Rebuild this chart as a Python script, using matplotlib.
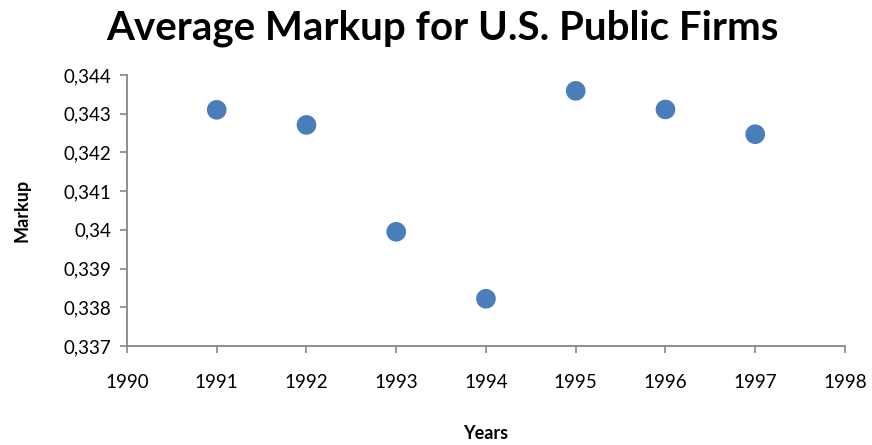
import numpy as np
import matplotlib
matplotlib.use("Agg")
import matplotlib.pyplot as plt
from matplotlib.ticker import FuncFormatter, MultipleLocator

#%% Data
years = [1991, 1992, 1993, 1994, 1995, 1996, 1997]
markup = [0.34310, 0.34271, 0.33995, 0.33822, 0.34359, 0.34311, 0.34247]

x_ticks = [1990, 1991, 1992, 1993, 1994, 1995, 1996, 1997, 1998]
y_min, y_max = 0.337, 0.344

#%% Plot
plt.rcParams['font.family'] = ['Lato', 'DejaVu Sans']
axis_grey = '#868686'

fig = plt.figure(figsize=(8.72, 4.45), dpi=100)
ax = fig.add_axes([0.1456, 0.2225, 0.8234, 0.609])

ax.scatter(years, markup, s=200, color='#4a7ebb', edgecolors='none', zorder=3)

ax.set_xlim(x_ticks[0], x_ticks[-1])
ax.set_ylim(y_min, y_max)
ax.set_xticks(x_ticks)
ax.yaxis.set_major_locator(MultipleLocator(0.001))


def comma_fmt(v, pos):
    s = f'{v:.3f}'.rstrip('0')
    return s.replace('.', ',')


ax.yaxis.set_major_formatter(FuncFormatter(comma_fmt))

for side in ['top', 'right']:
    ax.spines[side].set_visible(False)
for side in ['left', 'bottom']:
    ax.spines[side].set_color(axis_grey)
    ax.spines[side].set_linewidth(1.3)

ax.tick_params(axis='both', colors=axis_grey, length=5, width=1.2, labelsize=13.5,
               labelcolor='black')
ax.tick_params(axis='x', pad=15)
ax.tick_params(axis='y', pad=6)

ax.set_xlabel('Years', fontsize=13, fontweight='bold', labelpad=25)
ax.set_ylabel('Markup', fontsize=13, fontweight='bold', labelpad=24)
fig.suptitle('Average Markup for U.S. Public Firms', fontsize=29, fontweight='bold',
             x=0.507, y=0.978)

fig.savefig('out.png', dpi=100)
